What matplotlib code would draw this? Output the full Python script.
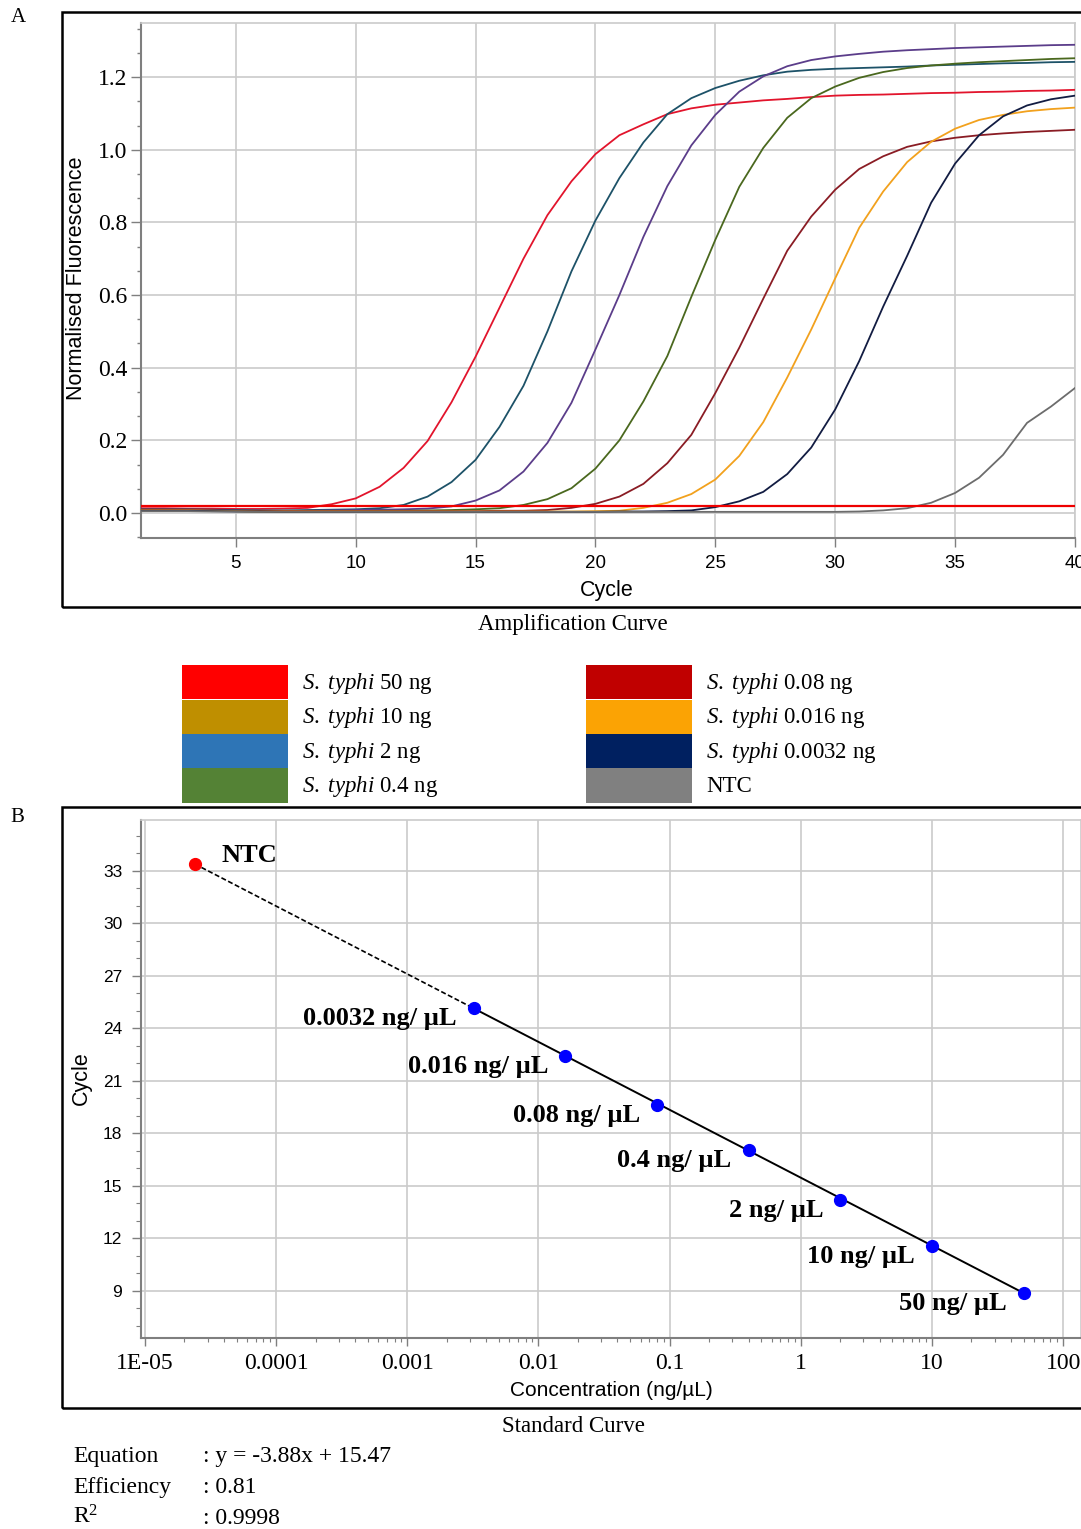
import numpy as np
import matplotlib
matplotlib.use('Agg')
import matplotlib.pyplot as plt
from matplotlib.patches import Rectangle
from matplotlib.ticker import (FixedLocator, MultipleLocator, FixedFormatter,
                               NullFormatter, LogLocator, FormatStrFormatter)

plt.rcParams['mathtext.fontset'] = 'custom'
plt.rcParams['mathtext.rm'] = 'Liberation Serif'
plt.rcParams['mathtext.it'] = 'Liberation Serif:italic'
plt.rcParams['mathtext.bf'] = 'Liberation Serif:bold'

SERIF = 'Liberation Serif'
SANS = 'Liberation Sans'

# ---------------- data: amplification curves ----------------
cycles = np.arange(1, 41)
amp_50 = [0.013, 0.013, 0.012, 0.012, 0.011, 0.011, 0.012, 0.014, 0.024, 0.040,
          0.072, 0.124, 0.198, 0.305, 0.430, 0.565, 0.700, 0.820, 0.913, 0.988,
          1.040, 1.070, 1.098, 1.114, 1.124, 1.130, 1.136, 1.140, 1.145, 1.149,
          1.151, 1.152, 1.154, 1.156, 1.157, 1.159, 1.160, 1.162, 1.163, 1.165]
amp_10 = [0.010, 0.010, 0.010, 0.009, 0.008, 0.007, 0.007, 0.008, 0.009, 0.010,
          0.013, 0.022, 0.045, 0.085, 0.146, 0.237, 0.350, 0.500, 0.665, 0.805,
          0.922, 1.020, 1.098, 1.142, 1.170, 1.190, 1.205, 1.215, 1.220, 1.223,
          1.225, 1.227, 1.229, 1.232, 1.234, 1.236, 1.238, 1.239, 1.241, 1.242]
amp_2 = [0.008, 0.008, 0.008, 0.007, 0.006, 0.005, 0.005, 0.006, 0.007, 0.008,
         0.009, 0.010, 0.012, 0.018, 0.034, 0.062, 0.114, 0.193, 0.303, 0.450,
         0.600, 0.760, 0.900, 1.012, 1.096, 1.160, 1.202, 1.230, 1.247, 1.257,
         1.264, 1.270, 1.274, 1.277, 1.280, 1.282, 1.284, 1.286, 1.288, 1.289]
amp_04 = [0.006, 0.006, 0.006, 0.006, 0.005, 0.004, 0.004, 0.004, 0.005, 0.005,
          0.006, 0.006, 0.007, 0.008, 0.010, 0.013, 0.022, 0.038, 0.068, 0.122,
          0.200, 0.307, 0.432, 0.595, 0.752, 0.898, 1.005, 1.088, 1.142, 1.174,
          1.198, 1.214, 1.225, 1.232, 1.237, 1.241, 1.244, 1.247, 1.250, 1.252]
amp_008 = [0.008, 0.008, 0.008, 0.007, 0.006, 0.005, 0.005, 0.005, 0.005, 0.005,
           0.005, 0.005, 0.005, 0.005, 0.005, 0.006, 0.006, 0.008, 0.014, 0.025,
           0.045, 0.080, 0.137, 0.215, 0.330, 0.455, 0.590, 0.722, 0.816, 0.890,
           0.947, 0.982, 1.008, 1.023, 1.033, 1.040, 1.045, 1.049, 1.052, 1.055]
amp_0016 = [0.007, 0.007, 0.007, 0.006, 0.005, 0.004, 0.004, 0.004, 0.004, 0.004,
            0.004, 0.004, 0.004, 0.004, 0.004, 0.004, 0.004, 0.004, 0.004, 0.005,
            0.006, 0.014, 0.028, 0.052, 0.092, 0.157, 0.250, 0.373, 0.505, 0.646,
            0.785, 0.885, 0.966, 1.022, 1.058, 1.082, 1.096, 1.106, 1.112, 1.116]
amp_00032 = [0.006, 0.006, 0.006, 0.005, 0.004, 0.004, 0.003, 0.003, 0.003, 0.003,
             0.003, 0.003, 0.003, 0.003, 0.003, 0.003, 0.003, 0.003, 0.003, 0.003,
             0.004, 0.004, 0.005, 0.007, 0.016, 0.032, 0.058, 0.107, 0.180, 0.285,
             0.418, 0.568, 0.708, 0.854, 0.962, 1.040, 1.092, 1.122, 1.139, 1.149]
amp_ntc = [0.005, 0.005, 0.005, 0.004, 0.004, 0.003, 0.003, 0.003, 0.003, 0.003,
           0.003, 0.003, 0.003, 0.003, 0.003, 0.003, 0.003, 0.003, 0.003, 0.003,
           0.003, 0.003, 0.003, 0.003, 0.003, 0.003, 0.003, 0.003, 0.003, 0.003,
           0.004, 0.007, 0.013, 0.028, 0.055, 0.097, 0.160, 0.248, 0.293, 0.344]
threshold = 0.018

curves = [amp_50, amp_10, amp_2, amp_04, amp_008, amp_0016, amp_00032, amp_ntc]
line_colors = ['#e2142c', '#1d5268', '#5b3d8a', '#4a681e', '#8a1c24',
               '#f2a11d', '#121c42', '#6c6c6c']

legend_labels = [r'$\mathit{S.\ typhi}$ 50 ng', r'$\mathit{S.\ typhi}$ 10 ng',
                 r'$\mathit{S.\ typhi}$ 2 ng', r'$\mathit{S.\ typhi}$ 0.4 ng',
                 r'$\mathit{S.\ typhi}$ 0.08 ng', r'$\mathit{S.\ typhi}$ 0.016 ng',
                 r'$\mathit{S.\ typhi}$ 0.0032 ng', 'NTC']
legend_colors = ['#ff0000', '#bf8f00', '#2e75b6', '#548235',
                 '#c00000', '#fba304', '#002060', '#808080']

# ---------------- data: standard curve ----------------
conc = np.array([0.0032, 0.016, 0.08, 0.4, 2, 10, 50])
ct = np.array([25.18, 22.43, 19.62, 17.05, 14.18, 11.57, 8.87])
ntc_conc = 2.4e-5
ntc_ct = 33.4
slope, intercept = -3.88, 15.47
x_tick_vals = [1e-5, 1e-4, 1e-3, 1e-2, 1e-1, 1, 10, 100]
x_tick_labels = ['1E-05', '0.0001', '0.001', '0.01', '0.1', '1', '10', '100']
stats_names = ['Equation', 'Efficiency', 'R$^{2}$']
stats_values = [': y = -3.88x + 15.47', ': 0.81', ': 0.9998']

# ---------------- figure ----------------
W, H = 1081, 1529
fig = plt.figure(figsize=(W / 100, H / 100), dpi=100)


def fx(px):
    return px / W


def fy(py):
    return 1 - py / H


GRID = '#cbcbcb'
SPINE = '#7f7f7f'

# ---- panel A ----
ax1 = fig.add_axes([fx(141), fy(538), (1075 - 141) / W, (538 - 23) / H])
for vals, col in zip(curves, line_colors):
    ax1.plot(cycles, vals, color=col, lw=1.3, zorder=3)
ax1.axhline(threshold, color='#ee0000', lw=1.6, zorder=4)
ax1.set_xlim(1.05, 40)
ax1.set_ylim(-0.069, 1.349)
ax1.xaxis.set_major_locator(MultipleLocator(5))
ax1.yaxis.set_major_locator(MultipleLocator(0.2))
ax1.yaxis.set_minor_locator(MultipleLocator(0.2 / 3))
ax1.yaxis.set_major_formatter(FormatStrFormatter('%.1f'))
ax1.grid(True, which='major', color=GRID, lw=1.2)
ax1.set_axisbelow(True)
ax1.tick_params(axis='x', which='major', length=6.5, width=1, color=SPINE,
                pad=5.5, labelsize=13.5, labelfontfamily=SANS)
ax1.tick_params(axis='y', which='major', length=7, width=1, color=SPINE,
                pad=3, labelsize=17, labelfontfamily=SERIF)
ax1.tick_params(axis='y', which='minor', length=3, width=1, color=SPINE)
for s in ['left', 'bottom']:
    ax1.spines[s].set_color(SPINE)
    ax1.spines[s].set_linewidth(1.5)
for s in ['top', 'right']:
    ax1.spines[s].set_color(GRID)
    ax1.spines[s].set_linewidth(1.2)

fig.text(fx(77), fy(278), 'Normalised Fluorescence', rotation=90, ha='center',
         va='center', fontsize=15.5, family=SANS)
fig.text(fx(607), fy(591), 'Cycle', ha='center', va='center', fontsize=15.5,
         family=SANS)
fig.text(fx(573), fy(624), 'Amplification Curve', ha='center', va='center',
         fontsize=16.5, family=SERIF)
fig.text(fx(18), fy(18), 'A', ha='center', va='center', fontsize=15, family=SERIF)
fig.add_artist(Rectangle((fx(62), fy(607)), 1.0, (607 - 12) / H,
                         transform=fig.transFigure, fill=False, ec='black', lw=1.8))

# ---- legend ----
row_h = (803 - 665) / 4
for i, (lab, col) in enumerate(zip(legend_labels, legend_colors)):
    colx = 182 if i < 4 else 586
    r = i % 4
    top = 665 + r * row_h
    fig.add_artist(Rectangle((fx(colx), fy(top + row_h)), (288 - 182) / W, row_h / H,
                             transform=fig.transFigure, fc=col, ec='none'))
    fig.text(fx(colx + 120), fy(top + row_h / 2 + 1), lab, ha='left', va='center',
             fontsize=16.5, family=SERIF)

# ---- panel B ----
ax2 = fig.add_axes([fx(141), fy(1338), 1 - fx(141), (1338 - 820) / H])
ax2.set_xscale('log')
ax2.set_xlim(10 ** -5.03, 10 ** 2.136)
ax2.set_ylim(6.31, 35.91)

x_solid = np.array([conc.min(), conc.max()])
ax2.plot(x_solid, slope * np.log10(x_solid) + intercept, color='black', lw=1.4, zorder=3)
x_dash = np.array([ntc_conc, conc.min()])
ax2.plot(x_dash, slope * np.log10(x_dash) + intercept, color='black', lw=1.2,
         ls=(0, (3, 1.5)), zorder=3)
ax2.plot(conc, ct, 'o', color='#0000ff', ms=8.5, zorder=5)
ax2.plot([ntc_conc], [ntc_ct], 'o', color='#ff0000', ms=8.5, zorder=5)

for c, y in zip(conc, ct):
    ax2.annotate(f'{c:g} ng/ µL', (c, y), xytext=(-17, -17), textcoords='offset pixels',
                 ha='right', va='baseline', fontsize=19, fontweight='bold', family=SERIF)
ax2.annotate('NTC', (ntc_conc, ntc_ct), xytext=(27, 2), textcoords='offset pixels',
             ha='left', va='baseline', fontsize=19, fontweight='bold', family=SERIF)

ax2.xaxis.set_major_locator(FixedLocator(x_tick_vals))
ax2.xaxis.set_major_formatter(FixedFormatter(x_tick_labels))
ax2.xaxis.set_minor_locator(LogLocator(base=10, subs=np.arange(2, 10), numticks=20))
ax2.xaxis.set_minor_formatter(NullFormatter())
ax2.yaxis.set_major_locator(MultipleLocator(3))
ax2.yaxis.set_minor_locator(MultipleLocator(1))
ax2.grid(True, which='major', color=GRID, lw=1.2)
ax2.set_axisbelow(True)
ax2.tick_params(axis='x', which='major', length=6, width=1, color=SPINE, pad=5,
                labelsize=17, labelfontfamily=SERIF)
ax2.tick_params(axis='x', which='minor', length=3, width=0.8, color=SPINE)
ax2.tick_params(axis='y', which='major', length=6.5, width=1, color=SPINE, pad=7,
                labelsize=12.5, labelfontfamily=SANS)
ax2.tick_params(axis='y', which='minor', length=3.5, width=0.8, color=SPINE)
for s in ['left', 'bottom']:
    ax2.spines[s].set_color(SPINE)
    ax2.spines[s].set_linewidth(1.5)
for s in ['top', 'right']:
    ax2.spines[s].set_color(GRID)
    ax2.spines[s].set_linewidth(1.2)

fig.text(fx(81), fy(1078), 'Cycle', rotation=90, ha='center', va='center',
         fontsize=15.5, family=SANS)
fig.text(fx(611), fy(1391), 'Concentration (ng/µL)', ha='center', va='center',
         fontsize=15, family=SANS)
fig.text(fx(573), fy(1426), 'Standard Curve', ha='center', va='center',
         fontsize=16.5, family=SERIF)
fig.text(fx(17), fy(817), 'B', ha='center', va='center', fontsize=15, family=SERIF)
fig.add_artist(Rectangle((fx(62), fy(1408)), 1.0, (1408 - 807) / H,
                         transform=fig.transFigure, fill=False, ec='black', lw=1.8))

# ---- stats ----
for i, (n, v) in enumerate(zip(stats_names, stats_values)):
    base = 1462 + i * 31
    fig.text(fx(73), fy(base), n, ha='left', va='baseline', fontsize=17, family=SERIF)
    fig.text(fx(203), fy(base), v, ha='left', va='baseline', fontsize=17, family=SERIF)

fig.savefig('out.png', dpi=100)
